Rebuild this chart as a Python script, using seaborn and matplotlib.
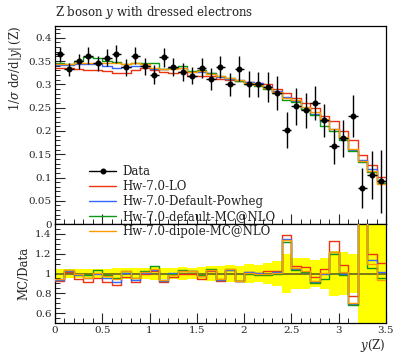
import numpy as np
import pandas as pd
import matplotlib
matplotlib.use("Agg")
import matplotlib.pyplot as plt
from matplotlib.lines import Line2D
from matplotlib.ticker import MultipleLocator, FuncFormatter
import seaborn as sns

# ---------------- data ----------------
bin_edges = np.linspace(0.0, 3.5, 36)

data_vals = [0.365, 0.332, 0.350, 0.362, 0.345, 0.357, 0.365, 0.337, 0.362, 0.339,
             0.321, 0.358, 0.337, 0.327, 0.319, 0.335, 0.312, 0.338, 0.300, 0.334,
             0.300, 0.300, 0.294, 0.282, 0.202, 0.253, 0.244, 0.260, 0.223, 0.167,
             0.184, 0.232, 0.078, 0.105, 0.092]
data_errs = [0.016, 0.015, 0.016, 0.018, 0.017, 0.018, 0.019, 0.018, 0.019, 0.018,
             0.020, 0.020, 0.020, 0.020, 0.019, 0.021, 0.023, 0.024, 0.025, 0.027,
             0.028, 0.027, 0.032, 0.036, 0.039, 0.040, 0.038, 0.036, 0.035, 0.038,
             0.040, 0.046, 0.043, 0.052, 0.068]

mc_lo = [0.336, 0.336, 0.332, 0.331, 0.331, 0.328, 0.324, 0.325, 0.330, 0.336,
         0.330, 0.327, 0.324, 0.326, 0.318, 0.318, 0.319, 0.312, 0.310, 0.308,
         0.305, 0.303, 0.300, 0.290, 0.281, 0.271, 0.259, 0.250, 0.233, 0.222,
         0.200, 0.180, 0.149, 0.126, 0.102]
mc_powheg = [0.341, 0.341, 0.344, 0.344, 0.344, 0.340, 0.335, 0.338, 0.340, 0.340,
             0.333, 0.332, 0.338, 0.335, 0.326, 0.327, 0.324, 0.316, 0.312, 0.309,
             0.306, 0.302, 0.294, 0.285, 0.272, 0.265, 0.247, 0.237, 0.221, 0.204,
             0.184, 0.160, 0.137, 0.119, 0.093]
mc_mcatnlo = [0.345, 0.344, 0.350, 0.358, 0.356, 0.350, 0.348, 0.344, 0.347, 0.347,
              0.345, 0.334, 0.335, 0.340, 0.328, 0.330, 0.325, 0.318, 0.313, 0.308,
              0.300, 0.296, 0.290, 0.281, 0.267, 0.262, 0.248, 0.235, 0.211, 0.200,
              0.181, 0.158, 0.133, 0.111, 0.088]
mc_dipole = [0.343, 0.344, 0.347, 0.347, 0.347, 0.347, 0.346, 0.344, 0.347, 0.343,
             0.336, 0.333, 0.333, 0.336, 0.327, 0.328, 0.322, 0.318, 0.314, 0.309,
             0.303, 0.299, 0.293, 0.284, 0.270, 0.266, 0.251, 0.240, 0.225, 0.204,
             0.187, 0.162, 0.135, 0.115, 0.086]

mc_labels = ["Hw-7.0-LO", "Hw-7.0-Default-Powheg", "Hw-7.0-default-MC@NLO", "Hw-7.0-dipole-MC@NLO"]
mc_series = [mc_lo, mc_powheg, mc_mcatnlo, mc_dipole]
mc_colors = ["#EE3311", "#3366FF", "#109618", "#FF9900"]

title = "Z boson $y$ with dressed electrons"

# ---------------- style ----------------
sns.set_style("ticks")
plt.rcParams["font.family"] = ["DejaVu Serif"]
plt.rcParams["mathtext.fontset"] = "dejavuserif"
plt.rcParams["axes.linewidth"] = 0.9
plt.rcParams["text.color"] = "#222222"

data_vals = np.array(data_vals)
data_errs = np.array(data_errs)
centers = 0.5 * (bin_edges[:-1] + bin_edges[1:])
half_w = 0.5 * np.diff(bin_edges)

rows, rrows = [], []
for lab, vals in zip(mc_labels, mc_series):
    v = np.array(vals)
    ext = np.append(v, v[-1])
    r = v / data_vals
    rext = np.append(r, r[-1])
    for x, y, yr in zip(bin_edges, ext, rext):
        rows.append({"x": x, "y": y, "gen": lab})
        rrows.append({"x": x, "y": yr, "gen": lab})
df = pd.DataFrame(rows)
rdf = pd.DataFrame(rrows)
palette = dict(zip(mc_labels, mc_colors))

fig = plt.figure(figsize=(3.94, 3.54), dpi=100)
ax = fig.add_axes([0.1396, 0.367, 0.840, 0.559])
axr = fig.add_axes([0.1396, 0.0876, 0.840, 0.2795], sharex=ax)

# main panel
sns.lineplot(data=df, x="x", y="y", hue="gen", palette=palette, estimator=None,
             sort=False, drawstyle="steps-post", linewidth=1.0, ax=ax, legend=False)
ax.errorbar(centers, data_vals, yerr=data_errs, xerr=half_w, fmt="o", color="black",
            ms=3.3, elinewidth=1.0, capsize=0, zorder=5)
ax.set_xlim(0, 3.5)
ax.set_ylim(0, 0.425)
ax.set_xlabel("")
ax.set_ylabel(r"$1/\sigma\ \mathrm{d}\sigma/\mathrm{d}|y|\,$(Z)", loc="top", fontsize=8.5, labelpad=3)
ax.tick_params(labelbottom=False)
ax.set_title(title, loc="left", fontsize=8.5, pad=7)

# ratio panel
rel = data_errs / data_vals
axr.fill_between(bin_edges, np.append(1 - rel, 1 - rel[-1]), np.append(1 + rel, 1 + rel[-1]),
                 step="post", color="#ffff00", linewidth=0, zorder=1)
axr.axhline(1.0, color="#6e6e1e", lw=1.3, zorder=2)
sns.lineplot(data=rdf, x="x", y="y", hue="gen", palette=palette, estimator=None,
             sort=False, drawstyle="steps-post", linewidth=1.0, ax=axr, legend=False, zorder=3)
axr.set_ylim(0.5, 1.5)
axr.set_xlim(0, 3.5)
axr.set_ylabel("MC/Data", fontsize=8.5, labelpad=3)
axr.set_xlabel(r"$y$(Z)", fontsize=8.5, ha="right", va="top")
axr.xaxis.set_label_coords(1.0, -0.145)

fmt = FuncFormatter(lambda v, p: ("%g" % round(v, 3)))
for a in (ax, axr):
    a.tick_params(which="both", direction="in", top=False, right=False, labelsize=7.5, pad=2.5)
    a.tick_params(which="major", length=7, width=0.8)
    a.tick_params(which="minor", length=3.5, width=0.7)
    a.xaxis.set_major_locator(MultipleLocator(0.5))
    a.xaxis.set_minor_locator(MultipleLocator(0.1))
    a.yaxis.set_major_formatter(fmt)
    for s in a.spines.values():
        s.set_color("black")
ax.yaxis.set_major_locator(MultipleLocator(0.05))
ax.yaxis.set_minor_locator(MultipleLocator(0.01))
axr.yaxis.set_major_locator(MultipleLocator(0.2))
axr.yaxis.set_minor_locator(MultipleLocator(0.05))
axr.xaxis.set_major_formatter(fmt)

handles = [Line2D([], [], color="black", marker="o", ms=3.3, lw=1.0)]
handles += [Line2D([], [], color=c, lw=1.0) for c in mc_colors]
fig.legend(handles, ["Data"] + mc_labels, loc="upper left", bbox_to_anchor=(0.205, 0.556),
           frameon=False, fontsize=8.5, handlelength=2.3, handletextpad=0.55,
           labelspacing=0.16, borderpad=0.2)

fig.savefig("out.png", dpi=100)
